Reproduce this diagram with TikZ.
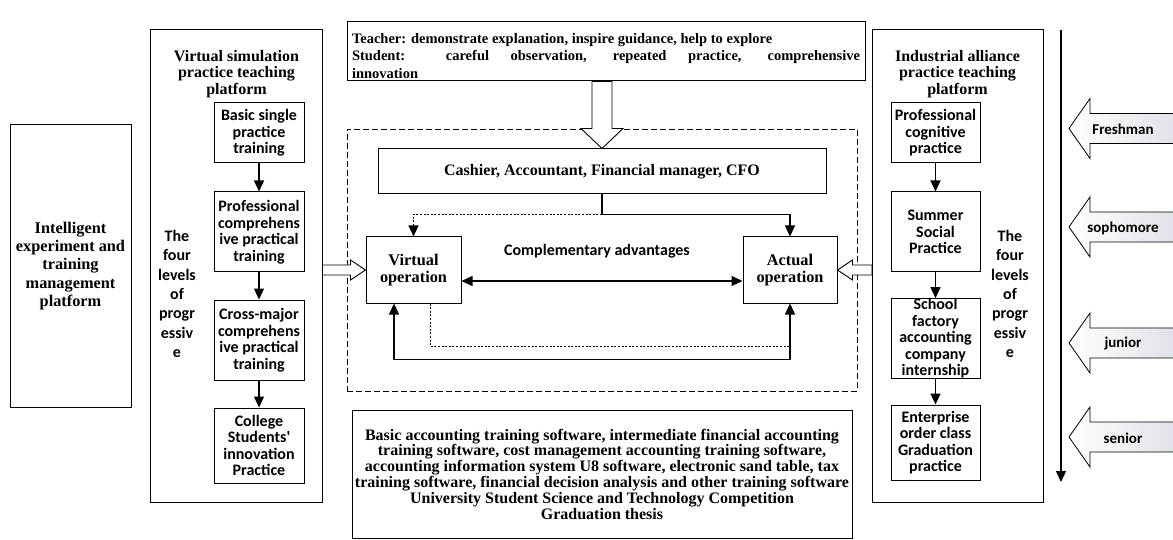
\documentclass[tikz,border=0pt]{standalone}
\usepackage{fontspec}
\setmainfont{Liberation Serif}
\newfontfamily\calf{Carlito}
\usetikzlibrary{arrows.meta,calc}
\begin{document}
\begin{tikzpicture}[x=1pt,y=-1pt,
  box/.style={draw, line width=1pt, inner sep=0pt, align=center},
  ser/.style={font=\fontsize{16}{16.5}\selectfont\bfseries},
  cal/.style={font=\calf\fontsize{16}{16.5}\selectfont\bfseries},
  tip/.style={line width=1.2pt, -{Triangle[length=11pt,width=10pt]}},
  twotip/.style={line width=1.2pt, {Triangle[length=11pt,width=10pt]}-{Triangle[length=11pt,width=10pt]}},
  dots/.style={line width=1.2pt, dash pattern=on 2pt off 1.6pt},
  hollow/.style={draw, line width=0.9pt, fill=white, line join=miter},
  yr/.style={draw, line width=0.8pt, left color=white, right color={rgb,255:red,222;green,225;blue,232}},
]
\useasboundingbox[fill=white] (0,0) rectangle (1173,540);

% left management platform
\node[box, font=\fontsize{16.3}{18.3}\selectfont\bfseries, minimum width=121pt, minimum height=282pt] (intel) at (70.5,266) {Intelligent\\experiment and\\training\\management\\platform};

% virtual simulation platform
\node[box, minimum width=172pt, minimum height=472pt] (vplat) at (236,266) {};
\node[ser, align=center] (vtitle) at (236.5,74) {Virtual simulation\\practice teaching\\platform};
\node[box, cal, minimum width=90pt, minimum height=60pt] (v1) at (259,133) {Basic single\\practice\\training};
\node[box, cal, minimum width=90pt, minimum height=80pt] (v2) at (259,232) {Professional\\comprehens\\ive practical\\training};
\node[box, cal, minimum width=90pt, minimum height=80pt] (v3) at (259,340) {Cross-major\\comprehens\\ive practical\\training};
\node[box, cal, minimum width=90pt, minimum height=75pt] (v4) at (259,445.5) {College\\Students'\\innovation\\Practice};
\node[cal, align=center, font=\calf\fontsize{16}{19.3}\selectfont\bfseries] (vlev) at (177,294) {The\\four\\levels\\of\\progr\\essiv\\e};
\draw[tip] (v1) -- (v2);
\draw[tip] (v2) -- (v3);
\draw[tip] (v3) -- (v4);

% teacher / student box
\node[box, minimum width=518pt, minimum height=59pt] (teach) at (606,51.5) {};
\node[font=\fontsize{14.5}{17.5}\selectfont\bfseries, text width=508pt, align=justify, inner sep=0pt] (teachtxt) at (606,56)
 {Teacher: demonstrate explanation, inspire guidance, help to explore\\Student: careful observation, repeated practice, comprehensive\linebreak innovation};

% dashed region
\node[draw, line width=0.9pt, dash pattern=on 6pt off 3pt, minimum width=510pt, minimum height=262pt, inner sep=0pt] (region) at (602,260) {};
\node[box, ser, minimum width=448pt, minimum height=45pt] (cash) at (602,171.5) {Cashier, Accountant, Financial manager, CFO};
\node[box, font=\fontsize{16.3}{17}\selectfont\bfseries, minimum width=95pt, minimum height=66pt] (virt) at (413.5,270) {Virtual\\operation};
\node[box, font=\fontsize{16.3}{17}\selectfont\bfseries, minimum width=94pt, minimum height=66pt] (act) at (790,270) {Actual\\operation};
\node[cal] (comp) at (597,251) {Complementary advantages};

% hollow arrow from teacher box
\coordinate (ht) at (cash.north);
\coordinate (hs) at (ht |- teach.south);
\draw[hollow] (ht) -- ($(ht)+(-21,-20)$) -- ($(ht)+(-10,-20)$) -- ($(hs)+(-10,0)$) -- ($(hs)+(10,0)$) -- ($(ht)+(10,-20)$) -- ($(ht)+(21,-20)$) -- cycle;

% connectors in region
\coordinate (j1) at ($(cash.south)+(0,20)$);
\draw[tip] (cash.south) -- (j1) -| (act.north);
\draw[dots, -{Triangle[length=11pt,width=10pt]}] (j1) -| (virt.north);
\draw[twotip] ($(virt.east)+(0,11)$) -- ($(act.west)+(0,11)$);
\draw[twotip] ($(virt.south)+(-19.5,0)$) -- ++(0,56) -| (act.south);
\draw[dots] ($(virt.south)+(17,0)$) |- ($(act.south)+(0,43)$);

% hollow side arrows
\coordinate (lt) at (virt.west);
\coordinate (lb) at (lt -| vplat.east);
\draw[hollow] (lt) -- ($(lt)+(-15,-10)$) -- ($(lt)+(-15,-5)$) -- ($(lb)+(0,-5)$) -- ($(lb)+(0,5)$) -- ($(lt)+(-15,5)$) -- ($(lt)+(-15,10)$) -- cycle;
\coordinate (rtp) at (act.east);
\coordinate (rb) at (rtp -| 872,0);
\draw[hollow] (rtp) -- ($(rtp)+(15,-10)$) -- ($(rtp)+(15,-5)$) -- ($(rb)+(0,-5)$) -- ($(rb)+(0,5)$) -- ($(rtp)+(15,5)$) -- ($(rtp)+(15,10)$) -- cycle;

% bottom software box
\node[box, font=\fontsize{16}{15.8}\selectfont\bfseries, minimum width=500pt, minimum height=128pt] (soft) at (602,474)
 {Basic accounting training software, intermediate financial accounting\\training software, cost management accounting training software,\\accounting information system U8 software, electronic sand table, tax\\training software, financial decision analysis and other training software\\University Student Science and Technology Competition\\Graduation thesis};

% industrial alliance platform
\node[box, minimum width=171pt, minimum height=472pt] (rplat) at (957.5,266) {};
\node[ser, align=center] (rtitle) at (957.5,74) {Industrial alliance\\practice teaching\\platform};
\node[box, cal, minimum width=89pt, minimum height=60pt] (r1) at (935.5,133) {Professional\\cognitive\\practice};
\node[box, cal, minimum width=89pt, minimum height=80pt] (r2) at (935.5,232) {Summer\\Social\\Practice};
\node[box, cal, minimum width=89pt, minimum height=77pt] (r3) at (935.5,338.5) {School\\factory\\accounting\\company\\internship};
\node[box, cal, minimum width=89pt, minimum height=75pt] (r4) at (935.5,442.5) {Enterprise\\order class\\Graduation\\practice};
\node[cal, align=center, font=\calf\fontsize{16}{19.3}\selectfont\bfseries] (rlev) at (1010,294) {The\\four\\levels\\of\\progr\\essiv\\e};
\draw[tip] (r1) -- (r2);
\draw[tip] (r2) -- (r3);
\draw[tip] (r3) -- (r4);

% timeline
\coordinate (ts) at (1061,30);
\coordinate (te) at (1061,482);
\draw[tip] (ts) -- (te);
\foreach \cy/\lab/\nm in {128.5/Freshman/fr, 227/sophomore/so, 343/junior/ju, 437/senior/se} {
  \draw[yr] (1069,\cy) -- (1090,\cy-30) -- (1090,\cy-15) -- (1180,\cy-15) -- (1180,\cy+15) -- (1090,\cy+15) -- (1090,\cy+30) -- cycle;
  \node[cal, font=\calf\fontsize{15}{16}\selectfont\bfseries] (\nm) at (1123,\cy+1) {\lab};
}
\end{tikzpicture}
\end{document}
